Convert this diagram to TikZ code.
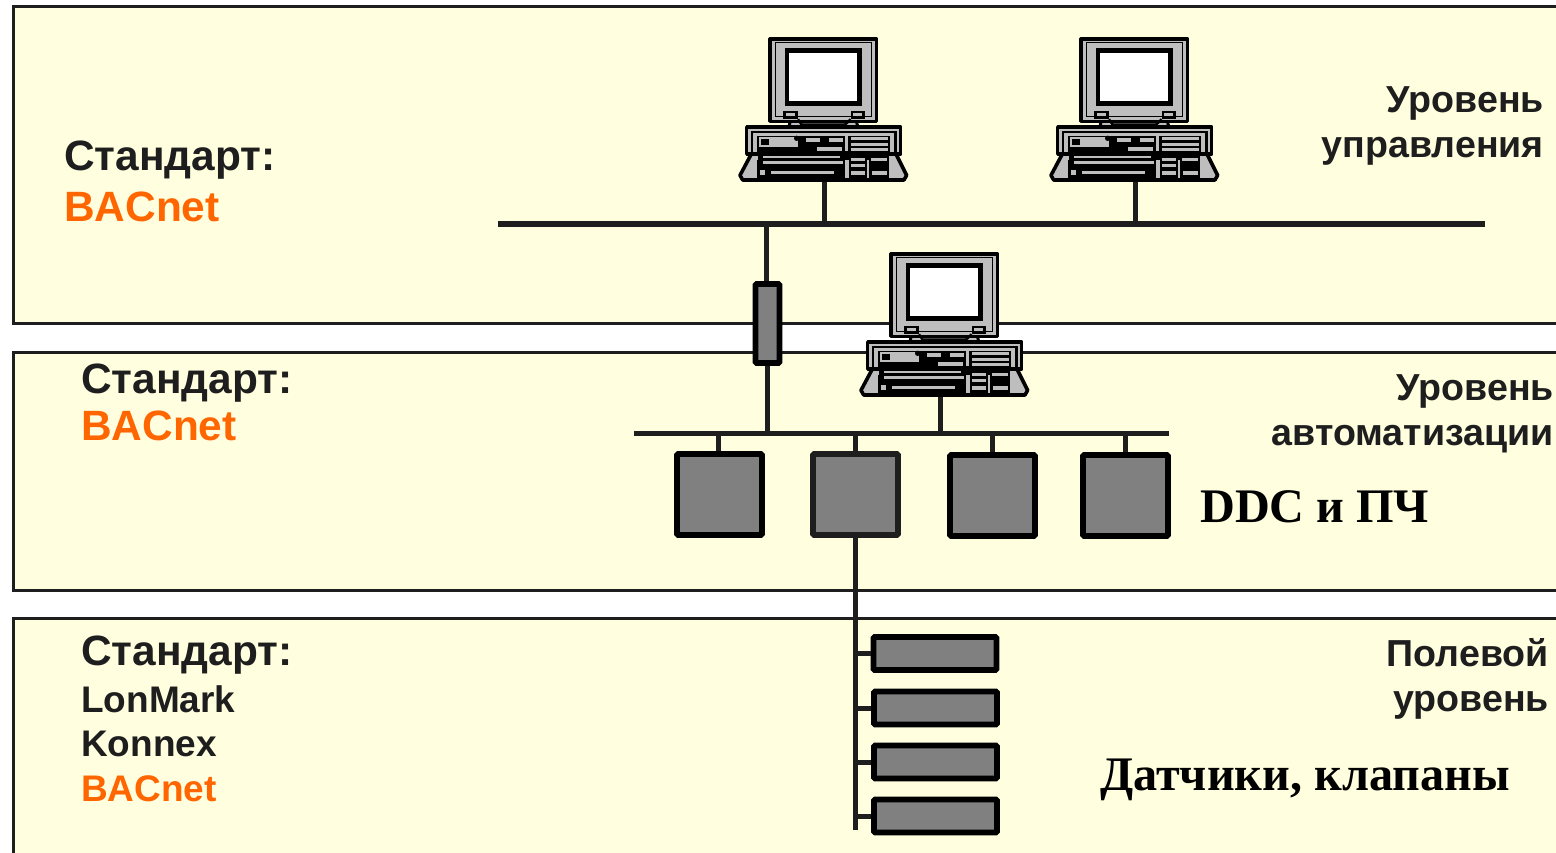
\documentclass[tikz,border=0pt]{standalone}
\usepackage{fontspec}
\setmainfont{Liberation Sans}
\newfontfamily\serifbold{Liberation Serif}
\definecolor{panelfill}{HTML}{FFFFDF}
\definecolor{ink}{HTML}{1E1E1E}
\definecolor{boxgray}{HTML}{808080}
\definecolor{pcgray}{HTML}{BEBEBE}
\definecolor{bacorange}{HTML}{FF6600}
\tikzset{
  panel/.style={draw=ink,fill=panelfill,line width=3pt},
  bus/.style={draw=ink,line width=5.4pt},
  wire/.style={draw=ink,line width=5pt},
  ctrl/.style={draw=black,fill=boxgray,line width=5.6pt,rounded corners=1pt,inner sep=0pt,minimum width=85pt,minimum height=81pt},
  ctrlb/.style={ctrl,draw=ink},
  field/.style={draw=black,fill=boxgray,line width=5.6pt,rounded corners=1pt,inner sep=0pt,minimum width=123pt,minimum height=33pt},
  gate/.style={draw=black,fill=boxgray,line width=5.6pt,rounded corners=1pt,inner sep=0pt,minimum width=24pt,minimum height=79pt},
  pchold/.style={inner sep=0pt,minimum width=166pt,minimum height=143pt},
  lbl/.style={font=\bfseries\fontsize{42.4}{42.4}\selectfont,text=ink,anchor=base west,inner sep=0pt},
  lblo/.style={lbl,text=bacorange},
  small/.style={font=\bfseries\fontsize{37}{37}\selectfont,text=ink,anchor=base west,inner sep=0pt},
  smallo/.style={small,text=bacorange},
  rlbl/.style={font=\bfseries\fontsize{37.6}{37.6}\selectfont,text=ink,anchor=base east,inner sep=0pt},
  slbl/.style={font=\serifbold\bfseries\fontsize{48.2}{48.2}\selectfont,text=black,anchor=base west,inner sep=0pt},
  pcl/.style={draw=black,line width=3pt,line join=round},
  pct/.style={draw=black,line width=1.6pt},
}
\newcommand{\pcdraw}[2]{%
 \begin{scope}[shift={(#1,#2)},x=0.3333pt,y=-0.3333pt]
  % neck
  \fill[pcgray,draw=black,line width=3pt] (182,270)--(378,270)--(385,296)--(175,296)--cycle;
  % monitor
  \filldraw[pcl,fill=pcgray,line width=3.2pt] (120,27) rectangle (440,274);
  \draw[draw=black,line width=1pt] (136,38) rectangle (425,260);
  \fill[black] (165,55) rectangle (395,228);
  \fill[white] (178,68) rectangle (380,214);
  \fill[black] (160,242) rectangle (204,268);
  \fill[black] (362,242) rectangle (404,268);
  \fill[pcgray] (168,248) rectangle (196,258);
  \fill[pcgray] (370,248) rectangle (396,258);
  \draw[pct,line width=2.5pt] (204,268)--(215,284)--(345,284)--(362,268);
  % base body
  \filldraw[pcl,fill=pcgray,line width=3.6pt] (50,291) rectangle (512,372);
  \fill[black] (62,304) rectangle (500,372);
  \fill[pcgray] (70,310) rectangle (492,368);
  \fill[black] (80,318) rectangle (480,368);
  \fill[pcgray] (88,322) rectangle (205,352);
  \fill[black] (92,328) rectangle (118,344);
  \fill[black] (200,325) circle (8);
  \fill[pcgray] (228,325) rectangle (270,336);
  \fill[pcgray] (296,325) rectangle (340,336);
  \fill[pcgray] (262,350) rectangle (336,362);
  \fill[pcgray] (344,318) rectangle (354,362);
  \fill[pcgray] (362,322) rectangle (474,330);
  \fill[pcgray] (362,340) rectangle (474,347);
  \fill[pcgray] (362,355) rectangle (474,362);
  % keyboard wedge
  \filldraw[pcl,fill=pcgray,line width=3.6pt] (64,372)--(498,372)--(530,436)--(522,450)--(38,450)--(30,436)--cycle;
  \fill[black] (84,376) rectangle (478,390);
  \fill[pcgray] (100,378) rectangle (330,383);
  \fill[black] (82,390) rectangle (346,444);
  \fill[pcgray] (100,394) rectangle (338,402);
  \fill[pcgray] (122,422) rectangle (312,432);
  \fill[pcgray] (90,420) rectangle (104,434);
  \fill[black] (356,378) rectangle (412,444);
  \fill[black] (416,378) rectangle (476,444);
  \fill[pcgray] (362,384) rectangle (404,394);
  \fill[pcgray] (424,384) rectangle (470,394);
  \fill[pcgray] (362,402) rectangle (404,412);
  \fill[pcgray] (362,422) rectangle (406,434);
  \fill[pcgray] (426,422) rectangle (472,434);
 \end{scope}%
}
\begin{document}
\begin{tikzpicture}[x=1pt,y=-1pt]
\useasboundingbox (0,0) rectangle (1556,853);
\fill[white] (0,0) rectangle (1556,853);
% panels
\path[panel] (13,7) rectangle (1570,323);
\path[panel] (13,352) rectangle (1570,590);
\path[panel] (13,618) rectangle (1570,870);
% named anchors
\node[pchold] (pcA) at (824,109) {};
\node[pchold] (pcB) at (1135,109) {};
\node[pchold] (pcC) at (945,324) {};
\coordinate (busAw) at (498,224);
\coordinate (busAe) at (1485,224);
\coordinate (busBw) at (634,433.5);
\coordinate (busBe) at (1169,433.5);
\coordinate (fieldend) at (855.5,830);
\node[gate] (gw) at (767.5,323.5) {};
\node[ctrl] (c1) at (719.5,494.5) {};
\node[ctrlb] (c2) at (855.5,494.5) {};
\node[ctrl] (c3) at (992.5,495.5) {};
\node[ctrl] (c4) at (1125.5,495.5) {};
\node[field] (f1) at (935,653.5) {};
\node[field] (f2) at (935.5,708) {};
\node[field] (f3) at (935.5,762) {};
\node[field] (f4) at (935.5,816) {};
% connectors
\draw[wire] (pcA.south) -- (pcA.south |- busAw);
\draw[wire] (pcB.south) -- (pcB.south |- busAw);
\draw[wire] ([xshift=-1.5pt]gw.north) -- ([xshift=-1.5pt]gw.north |- busAw);
\draw[wire] (gw.south) -- (gw.south |- busBw);
\draw[wire] ([xshift=-5pt]pcC.south) -- ([xshift=-5pt]pcC.south |- busBw);
\draw[wire] ([xshift=-1.5pt]c1.north) -- ([xshift=-1.5pt]c1.north |- busBw);
\draw[wire] (c2.north) -- (c2.north |- busBw);
\draw[wire] (c3.north) -- (c3.north |- busBw);
\draw[wire] (c4.north) -- (c4.north |- busBw);
\draw[wire] (c2.south) -- (fieldend);
\draw[wire] (f1.west) -- (f1.west -| fieldend);
\draw[wire] (f2.west) -- (f2.west -| fieldend);
\draw[wire] (f3.west) -- (f3.west -| fieldend);
\draw[wire] (f4.west) -- (f4.west -| fieldend);
\draw[bus] (busAw) -- (busAe);
\draw[bus] (busBw) -- (busBe);
% computers
\pcdraw{730}{30}
\pcdraw{1041}{30}
\pcdraw{851}{245}
% labels
\node[lbl] (t1) at (64,170.5) {Стандарт:};
\node[lblo] (t2) at (64,221.5) {BACnet};
\node[lbl] (t3) at (81,393.5) {Стандарт:};
\node[lblo] (t4) at (81,440) {BACnet};
\node[lbl] (t5) at (81,665.5) {Стандарт:};
\node[small] (t6) at (81,712) {LonMark};
\node[small] (t7) at (81,756) {Konnex};
\node[smallo] (t8) at (81,801) {BACnet};
\node[rlbl] (r1) at (1544,112.5) {Уровень};
\node[rlbl] (r2) at (1544,157.5) {управления};
\node[rlbl] (r3) at (1554,400) {Уровень};
\node[rlbl] (r4) at (1554,445) {автоматизации};
\node[rlbl] (r5) at (1549,666) {Полевой};
\node[rlbl] (r6) at (1549,711) {уровень};
\node[slbl] (s1) at (1200,522) {DDC и ПЧ};
\node[slbl] (s2) at (1100,790) {Датчики, клапаны};
\end{tikzpicture}
\end{document}
